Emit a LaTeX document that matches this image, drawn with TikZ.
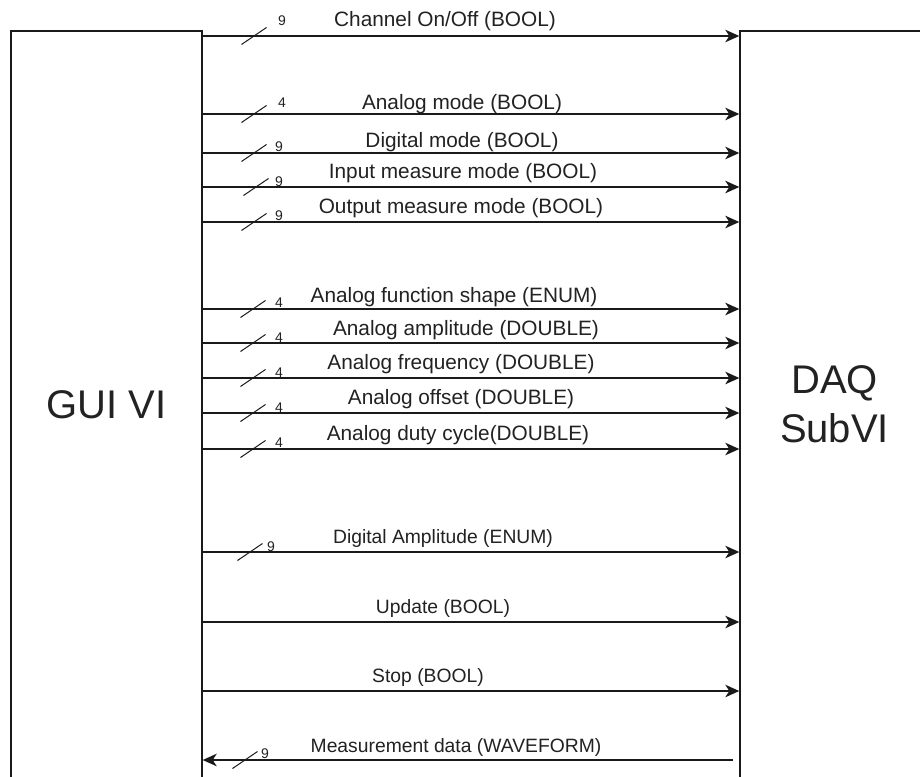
\documentclass[tikz,border=0pt]{standalone}
\usepackage{fontspec}
\setmainfont{Liberation Sans}
\usetikzlibrary{arrows.meta}
\definecolor{ink}{HTML}{1A1A1A}
\definecolor{txt}{HTML}{222222}
\tikzset{
  box/.style={draw=ink, line width=1.4pt, fill=white, rectangle, inner sep=0pt, text=txt, align=center, font=\fontsize{40}{49}\selectfont},
  arr/.style={draw=ink, line width=1.4pt, -{Stealth[length=14pt,width=12.5pt,inset=4pt]}},
  lbl/.style={inner sep=0pt, text=txt, font=\fontsize{20.8}{24}\selectfont, anchor=base},
  lblsmall/.style={lbl, font=\fontsize{19.3}{23}\selectfont},
  num/.style={inner sep=0pt, text=txt, font=\fontsize{14}{16}\selectfont},
  tick/.style={draw=ink, line width=1pt}
}
\newcommand\sigline[9]{%
  \coordinate (#1) at (0,#2);
  \draw[arr] (gui.east |- #1) -- (daq.west |- #1);
  \node[lbl] (#1t) at (#4,#5) {#3};
  \draw[tick] (#9-12.5,#2+8.5) -- (#9+12.5,#2-8.5);
  \node[num] (#1n) at (#7,#8) {#6};
}
\begin{document}
\begin{tikzpicture}[x=1pt,y=-1pt]
\clip (0,0) rectangle (920,776);
\fill[white] (0,0) rectangle (920,776);
\node[box, minimum width=191pt, minimum height=747pt] (gui) at (106.5,404.5) {GUI VI};
\node[box, minimum width=189pt, minimum height=747pt] (daq) at (834.5,404.5) {DAQ\\SubVI};
\sigline{s1}{36}{Channel On/Off (BOOL)}{445}{27}{9}{282}{21}{254}
\sigline{s2}{114}{Analog mode (BOOL)}{462}{109}{4}{282}{103}{254}
\sigline{s3}{153}{Digital mode (BOOL)}{462}{147}{9}{279}{147}{254}
\sigline{s4}{187}{Input measure mode (BOOL)}{463}{178}{9}{279}{182}{256}
\sigline{s5}{222}{Output measure mode (BOOL)}{461}{213}{9}{279}{216}{254}
\sigline{s6}{309}{Analog function shape (ENUM)}{454}{302}{4}{279}{303}{253}
\sigline{s7}{343}{Analog amplitude (DOUBLE)}{466}{335}{4}{279}{338}{253}
\sigline{s8}{378}{Analog frequency (DOUBLE)}{461}{369}{4}{279}{373}{253}
\sigline{s9}{413}{Analog offset (DOUBLE)}{461}{404}{4}{279}{408}{253}
\sigline{s10}{449}{Analog duty cycle(DOUBLE)}{458}{440}{4}{279}{443}{253}
% Digital Amplitude
\coordinate (s11) at (0,552);
\draw[arr] (gui.east |- s11) -- (daq.west |- s11);
\node[lblsmall] (s11t) at (443,543) {Digital Amplitude (ENUM)};
\draw[tick] (250-12.5,552+8.5) -- (250+12.5,552-8.5);
\node[num] (s11n) at (271,547) {9};
% Update
\coordinate (s12) at (0,622);
\draw[arr] (gui.east |- s12) -- (daq.west |- s12);
\node[lblsmall] (s12t) at (443,613) {Update (BOOL)};
% Stop
\coordinate (s13) at (0,691);
\draw[arr] (gui.east |- s13) -- (daq.west |- s13);
\node[lblsmall] (s13t) at (428,682) {Stop (BOOL)};
% Measurement data (reverse)
\coordinate (mend) at (733,760);
\draw[arr] (mend) -- (gui.east |- mend);
\node[lblsmall] (s14t) at (456,752) {Measurement data (WAVEFORM)};
\draw[tick] (245-12.5,760+8.5) -- (245+12.5,760-8.5);
\node[num] (s14n) at (265,754) {9};
\end{tikzpicture}
\end{document}
